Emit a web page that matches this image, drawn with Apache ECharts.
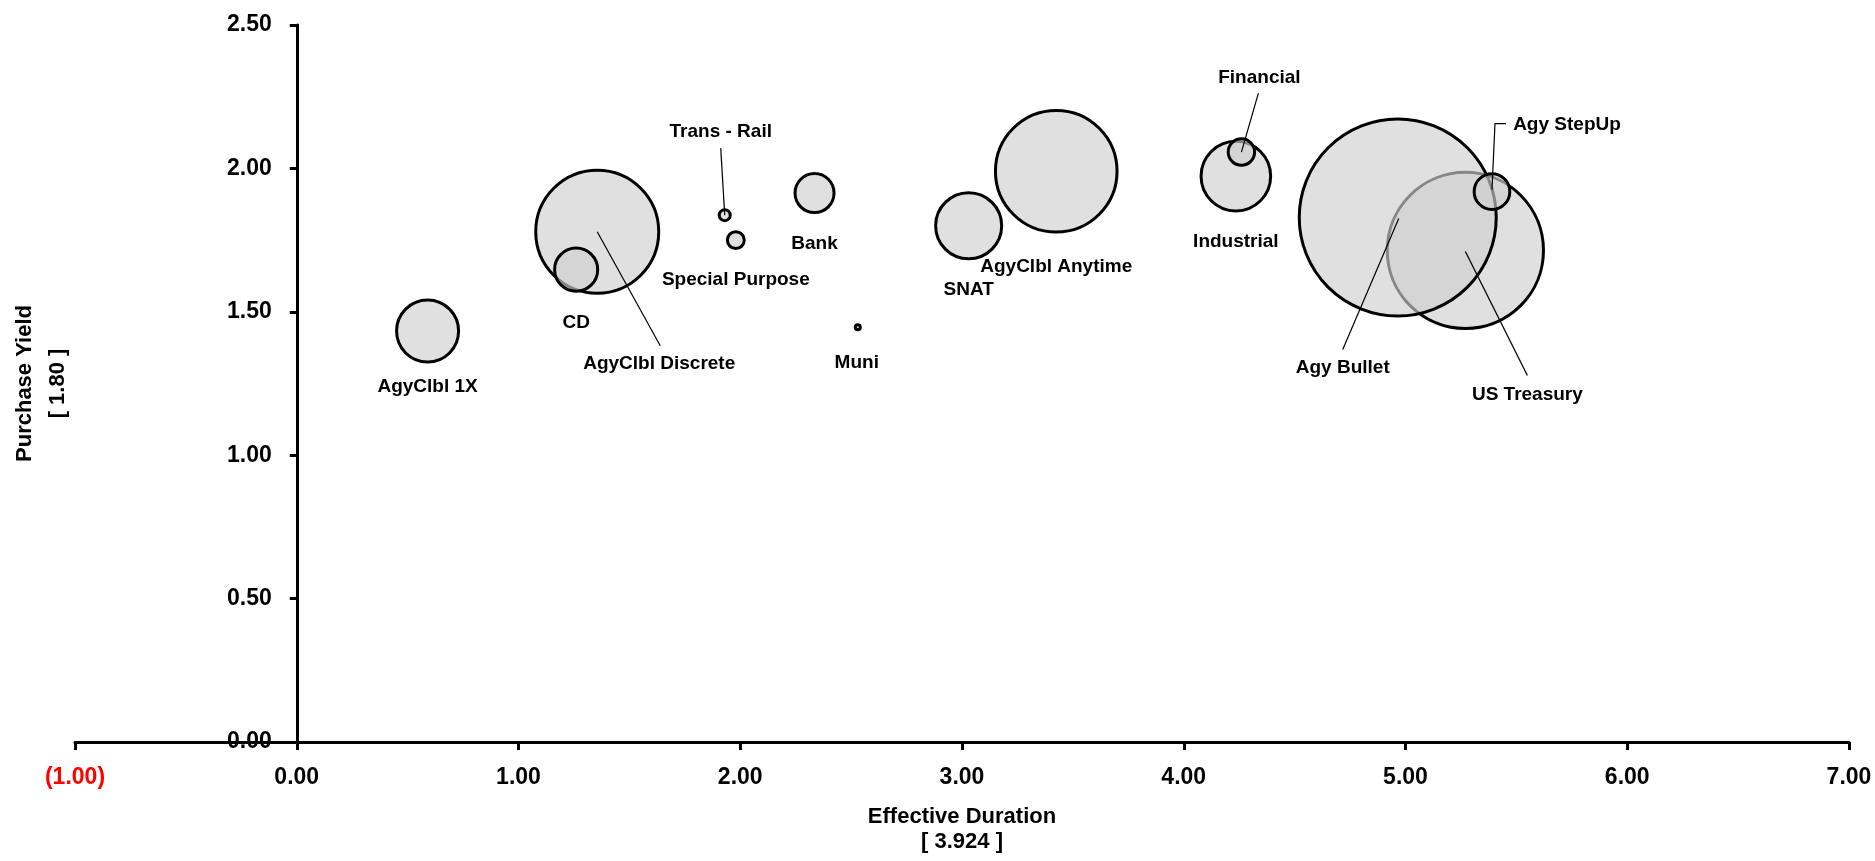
<!DOCTYPE html>
<html>
<head>
<meta charset="utf-8">
<script src="https://cdn.jsdelivr.net/npm/echarts@6/dist/echarts.min.js"></script>
<style>
html,body{margin:0;padding:0;background:#fff;}
#chart{width:1875px;height:861px;}
</style>
</head>
<body>
<div id="chart"></div>
<script>
// ---- data ----
const categories = ['AgyClbl 1X','AgyClbl Discrete','CD','Trans - Rail','Special Purpose','Bank','Muni','SNAT','AgyClbl Anytime','Industrial','Financial','US Treasury','Agy Bullet','Agy StepUp'];
const duration   = [0.59, 1.355, 1.26, 1.93, 1.98, 2.335, 2.53, 3.03, 3.425, 4.235, 4.26, 5.27, 4.965, 5.39];
const yieldVals  = [1.433, 1.779, 1.647, 1.837, 1.750, 1.914, 1.446, 1.800, 1.990, 1.973, 2.057, 1.714, 1.829, 1.919];
const weights    = [3.36, 13.22, 1.62, 0.106, 0.25, 1.33, 0.022, 3.81, 12.92, 4.23, 0.61, 21.32, 33.91, 1.11];
const xTitle = 'Effective Duration';
const xAverage = '3.924';
const yTitle = 'Purchase Yield';
const yAverage = '1.80';
const xMin = -1, xMax = 7, xStep = 1;
const yMin = 0, yMax = 2.5, yStep = 0.5;

// ---- label placement (pixel offsets from bubble centre; style only) ----
const labelStyle = {
  'AgyClbl 1X':      {dx: 0,   dy: 56},
  'AgyClbl Discrete':{dx: 62,  dy: 132, line: [[0,0],[63,114]]},
  'CD':              {dx: 0,   dy: 53},
  'Trans - Rail':    {dx: -4,  dy: -83, line: [[0,0],[-4,-67]]},
  'Special Purpose': {dx: 0,   dy: 40},
  'Bank':            {dx: 0,   dy: 51},
  'Muni':            {dx: -1,  dy: 35},
  'SNAT':            {dx: 0,   dy: 64},
  'AgyClbl Anytime': {dx: 0,   dy: 95},
  'Industrial':      {dx: 0,   dy: 66},
  'Financial':       {dx: 18,  dy: -74, line: [[0,0],[17,-59]]},
  'US Treasury':     {dx: 62,  dy: 144, line: [[0,1],[62,125]]},
  'Agy Bullet':      {dx: -55, dy: 150, line: [[1,1],[-55,132]]},
  'Agy StepUp':      {dx: 75,  dy: -67, line: [[0,-2],[3,-68],[14,-68]]}
};

const FONT = '"Liberation Sans", Arial, sans-serif';
const SIZE_SCALE = 33.83;
const GRID = {left: 75, right: 26, top: 25, bottom: 119};
const gridWidth = 1875 - GRID.left - GRID.right;
// shift the value axis so it crosses the horizontal axis at duration 0
const yAxisShift = gridWidth * (0 - xMin) / (xMax - xMin);

const bubbleData = categories.map((c, i) => [duration[i], yieldVals[i], weights[i], c]);

function fmt(v) {
  if (v < 0) return '{neg|(' + Math.abs(v).toFixed(2) + ')}';
  return v.toFixed(2);
}

const chart = echarts.init(document.getElementById('chart'), null, {renderer: 'canvas'});
chart.setOption({
  backgroundColor: '#ffffff',
  animation: false,
  grid: {left: GRID.left, right: GRID.right, top: GRID.top, bottom: GRID.bottom, containLabel: false, outerBoundsMode: 'none'},
  xAxis: {
    type: 'value', min: xMin, max: xMax, interval: xStep,
    name: xTitle + '\n[ ' + xAverage + ' ]',
    nameLocation: 'middle', nameGap: 62,
    nameTextStyle: {fontFamily: FONT, fontWeight: 'bold', fontSize: 22, color: '#000', lineHeight: 25},
    axisLine: {show: true, onZero: false, lineStyle: {color: '#000', width: 3}},
    axisTick: {show: true, inside: false, length: 8, lineStyle: {color: '#000', width: 3}},
    axisLabel: {
      formatter: fmt, margin: 24,
      fontFamily: FONT, fontWeight: 'bold', fontSize: 23, color: '#000',
      rich: {neg: {color: '#ff0000', fontFamily: FONT, fontWeight: 'bold', fontSize: 23}}
    },
    splitLine: {show: false}
  },
  yAxis: {
    type: 'value', min: yMin, max: yMax, interval: yStep,
    offset: -yAxisShift,
    name: yTitle + '\n[ ' + yAverage + ' ]',
    nameLocation: 'middle', nameRotate: 90, nameGap: 222,
    nameTextStyle: {fontFamily: FONT, fontWeight: 'bold', fontSize: 22, color: '#000', lineHeight: 33},
    axisLine: {show: true, onZero: false, lineStyle: {color: '#000', width: 3}},
    axisTick: {show: true, inside: false, length: 7, lineStyle: {color: '#000', width: 3}},
    axisLabel: {
      formatter: v => v.toFixed(2), margin: 25, showMinLabel: true, showMaxLabel: true,
      fontFamily: FONT, fontWeight: 'bold', fontSize: 23, color: '#000'
    },
    splitLine: {show: false}
  },
  series: [
    {
      type: 'scatter',
      data: bubbleData,
      symbol: 'circle',
      symbolSize: v => Math.sqrt(v[2]) * SIZE_SCALE,
      itemStyle: {color: 'rgba(208,208,208,0.65)', borderColor: '#000', borderWidth: 3, opacity: 1},
      emphasis: {disabled: true},
      z: 2
    },
    {
      type: 'custom',
      data: bubbleData,
      encode: {x: 0, y: 1},
      silent: true,
      clip: false,
      z: 5,
      renderItem: function (params, api) {
        const name = categories[params.dataIndex];
        const st = labelStyle[name] || {dx: 0, dy: 0};
        const pt = api.coord([api.value(0), api.value(1)]);
        const children = [];
        if (st.line) {
          children.push({
            type: 'polyline',
            shape: {points: st.line.map(p => [pt[0] + p[0], pt[1] + p[1]])},
            style: {stroke: '#000', lineWidth: 1.2, fill: null}
          });
        }
        children.push({
          type: 'text',
          x: pt[0] + st.dx, y: pt[1] + st.dy,
          style: {
            text: name, fill: '#000',
            font: 'bold 19px ' + FONT,
            textAlign: 'center', textVerticalAlign: 'middle',
            align: 'center', verticalAlign: 'middle'
          }
        });
        return {type: 'group', children: children};
      }
    }
  ]
});
</script>
</body>
</html>
